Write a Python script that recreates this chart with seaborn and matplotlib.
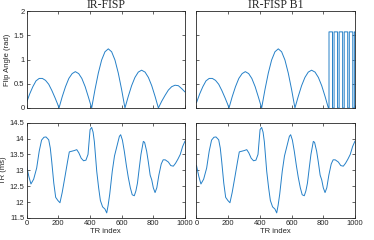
import seaborn as sns
import pandas as pd
import matplotlib.pyplot as plt

# flip angle arches (shared by both panels up to TR ~832)
fa_x = [0, 20, 40, 60, 80, 100, 120, 140, 160, 180, 195, 205,
        225, 246, 267, 288, 308, 329, 349, 370, 390, 411,
        432, 453, 474, 495, 516, 537, 558, 579, 600, 621,
        642, 663, 684, 705, 726, 748, 769, 790, 811, 832]
fa_y = [0.11, 0.29, 0.44, 0.56, 0.61, 0.61, 0.57, 0.49, 0.36, 0.21, 0.09, 0,
        0.23, 0.44, 0.61, 0.71, 0.75, 0.71, 0.61, 0.44, 0.23, 0,
        0.38, 0.72, 0.99, 1.16, 1.22, 1.16, 0.99, 0.72, 0.38, 0,
        0.24, 0.46, 0.63, 0.74, 0.78, 0.74, 0.63, 0.46, 0.24, 0]

# last arch of IR-FISP
tail_x = [853, 874, 895, 916, 937, 958, 979, 1000]
tail_y = [0.14, 0.26, 0.37, 0.44, 0.47, 0.46, 0.40, 0.33]

# pulse train of IR-FISP B1
b1_x = [836, 836, 858, 858, 868, 868, 890, 890, 900, 900, 922, 922,
        932, 932, 954, 954, 964, 964, 986, 986, 996, 996, 1000]
b1_y = [0, 1.57, 1.57, 0, 0, 1.57, 1.57, 0, 0, 1.57, 1.57, 0,
        0, 1.57, 1.57, 0, 0, 1.57, 1.57, 0, 0, 1.57, 1.57]

# repetition time (ms)
tr_x = [0, 15, 28, 45, 64, 80, 95, 110, 123, 140, 150, 159, 172, 184, 198,
        211, 225, 243, 258, 270, 285, 300, 317, 330, 345, 360, 375, 388,
        401, 411, 420, 428, 443, 455, 466, 480, 495, 506, 515, 525, 541,
        555, 570, 586, 594, 605, 617, 630, 642, 655, 667, 680, 690, 700,
        712, 722, 737, 745, 758, 768, 780, 790, 800, 811, 822, 835, 850,
        862, 875, 895, 910, 926, 940, 955, 970, 985, 1000]
tr_y = [13.15, 12.8, 12.57, 12.72, 13.07, 13.6, 13.95, 14.04, 14.05, 13.96,
        13.7, 13.28, 12.6, 12.15, 12.05, 11.98, 12.3, 12.81, 13.25, 13.58,
        13.6, 13.62, 13.65, 13.55, 13.38, 13.3, 13.32, 13.5, 14.28, 14.35,
        14.2, 13.9, 12.97, 12.45, 12.05, 11.85, 11.78, 11.66, 11.9, 12.25,
        12.97, 13.45, 13.75, 14.07, 14.12, 13.95, 13.6, 13.15, 12.78, 12.45,
        12.23, 12.2, 12.35, 12.6, 13.1, 13.5, 13.91, 13.88, 13.6, 13.28,
        12.85, 12.7, 12.45, 12.3, 12.45, 12.85, 13.2, 13.33, 13.33, 13.26,
        13.15, 13.13, 13.22, 13.35, 13.5, 13.75, 13.92]

df_fisp = pd.DataFrame({'x': fa_x + tail_x, 'y': fa_y + tail_y})
df_b1 = pd.DataFrame({'x': fa_x + b1_x, 'y': fa_y + b1_y})
df_tr = pd.DataFrame({'x': tr_x, 'y': tr_y})

sns.set_style("ticks")
plt.rcParams['font.family'] = ['Liberation Sans', 'DejaVu Sans']

blue = '#2580C8'
fig = plt.figure(figsize=(3.74, 2.4), dpi=100)
ax1 = fig.add_axes([0.0709, 0.55, 0.4238, 0.404])
ax2 = fig.add_axes([0.5254, 0.55, 0.4238, 0.404])
ax3 = fig.add_axes([0.0709, 0.0917, 0.4238, 0.3973])
ax4 = fig.add_axes([0.5254, 0.0917, 0.4238, 0.3973])

for ax, df in [(ax1, df_fisp), (ax2, df_b1), (ax3, df_tr), (ax4, df_tr)]:
    sns.lineplot(data=df, x='x', y='y', ax=ax, color=blue, linewidth=0.7,
                 estimator=None, sort=False)
    ax.set_xlim(0, 1000)
    ax.set_xticks([0, 200, 400, 600, 800, 1000])
    ax.tick_params(direction='in', top=True, right=True, length=2, width=0.5,
                   labelsize=5.5, pad=1.5, colors='#262626')
    for s in ax.spines.values():
        s.set_linewidth(0.6)
        s.set_color('#262626')
    ax.set_xlabel('')
    ax.set_ylabel('')

for ax in (ax1, ax2):
    ax.set_ylim(0, 2)
    ax.set_yticks([0, 0.5, 1, 1.5, 2])
    ax.set_yticklabels(['0', '0.5', '1', '1.5', '2'])
    ax.set_xticklabels([])
for ax in (ax3, ax4):
    ax.set_ylim(11.5, 14.5)
    ax.set_yticks([11.5, 12, 12.5, 13, 13.5, 14, 14.5])
    ax.set_yticklabels(['11.5', '12', '12.5', '13', '13.5', '14', '14.5'])
    ax.set_xlabel('TR index', fontsize=5.5, labelpad=1, color='#262626')
ax2.set_yticklabels([])
ax4.set_yticklabels([])

ax1.set_ylabel('Flip Angle (rad)', fontsize=5.5, labelpad=2, color='#262626')
ax3.set_ylabel('TR (ms)', fontsize=5.5, labelpad=2, color='#262626')
ax1.set_title('IR-FISP', fontsize=8.5, family='Liberation Serif', pad=1.5)
ax2.set_title('IR-FISP B1', fontsize=8.5, family='Liberation Serif', pad=1.5)

plt.savefig('out.png', dpi=100)
